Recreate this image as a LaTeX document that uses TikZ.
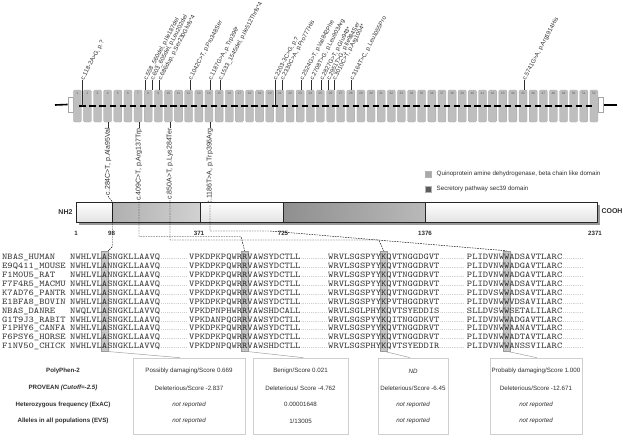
\documentclass[tikz,border=0pt]{standalone}
\usepackage{fontspec}
\usepackage{graphicx}
\setmainfont{Liberation Sans}
\usetikzlibrary{shadows,calc}
\definecolor{exongray}{HTML}{BEBEBE}
\definecolor{exonedge}{HTML}{A8A8A8}
\definecolor{hlfill}{HTML}{C6C6C6}
\definecolor{hledge}{HTML}{9A9A9A}
\definecolor{boxedge}{HTML}{CFCFCF}
\definecolor{quino}{HTML}{A9A9A9}
\definecolor{secd}{HTML}{5C5C5C}
\definecolor{txt}{HTML}{2E2E2E}
\definecolor{seqtxt}{HTML}{3A3A3A}
\newcommand{\seqfont}{\fontsize{8.8}{8.8}\selectfont\ttfamily}
\newcommand{\hlc}[1]{\makebox[4.62pt]{\fontseries{b}\selectfont #1}}
\newcommand{\dotrun}[1]{\hbox to #1pt{\leaders\hbox to 1.9pt{\hss.\hss}\hfill}}
\newcommand{\sqz}[1]{\scalebox{1.147}[1]{#1}}
\tikzset{
  exon/.style={rectangle, minimum width=8pt, minimum height=32pt, inner sep=0pt, fill=exongray, draw=exonedge, line width=0.3pt, rounded corners=1.2pt},
  exnum/.style={inner sep=0pt, font=\fontsize{3.2}{3.2}\selectfont, text=gray!70!black},
  utr/.style={rectangle, minimum width=5.5pt, minimum height=15pt, inner sep=0pt, fill=white, draw=gray!70, line width=0.4pt},
  intron/.style={line width=1.1pt, black},
  backbone/.style={line width=1.6pt, black},
  tick/.style={line width=0.45pt, txt},
  toplab/.style={inner sep=0.3pt, font=\fontsize{6}{6}\selectfont, text=txt, rotate=62, anchor=west},
  botlab/.style={inner sep=0.6pt, font=\fontsize{7}{7}\selectfont, text=txt, rotate=90, anchor=east},
  barframe/.style={rectangle, inner sep=0pt, minimum width=521pt, minimum height=20pt, fill=white, drop shadow={shadow xshift=2.5pt, shadow yshift=-2.8pt, fill=black!80}},
  barseg/.style={rectangle, inner sep=0pt, minimum height=20pt, draw=black!85, line width=0.5pt},
  whiteseg/.style={barseg, top color=white, bottom color=gray!22},
  quinoseg/.style={barseg, left color=gray!62, right color=gray!36},
  secseg/.style={barseg, left color=gray!88, right color=gray!55},
  endlab/.style={inner sep=0pt, font=\fontsize{7}{7}\selectfont\bfseries, text=txt},
  poslab/.style={inner sep=0pt, font=\fontsize{6.2}{6.2}\selectfont\bfseries, text=txt},
  legbox/.style={rectangle, minimum size=6pt, inner sep=0pt, draw=gray!60},
  legtxt/.style={inner sep=0pt, anchor=west, font=\fontsize{6.2}{6.2}\selectfont, text=txt},
  vdash/.style={dash pattern=on 1.6pt off 1pt, line width=0.45pt, black},
  hlcol/.style={rectangle, minimum width=7pt, minimum height=100pt, inner sep=0pt, fill=hlfill, draw=hledge, line width=0.4pt},
  seqn/.style={inner sep=0pt, anchor=base west, font=\seqfont, text=seqtxt, text height=5.4pt, text depth=0pt},
  dotn/.style={inner sep=0pt, anchor=base west, font=\fontsize{5}{5}\selectfont, text=seqtxt, text height=1pt, text depth=0pt},
  tbox/.style={rectangle, draw=boxedge, line width=0.6pt, minimum height=76pt, inner sep=0pt},
  ttext/.style={inner sep=0pt, font=\fontsize{6.2}{6.2}\selectfont, text=txt},
  rlab/.style={inner sep=0pt, font=\fontsize{6.2}{6.2}\selectfont\bfseries, text=txt},
  gline/.style={line width=0.5pt, gray!75}
}
\begin{document}
\begin{tikzpicture}[x=1pt,y=-1pt]
\useasboundingbox (0,0) rectangle (623,439);
% ---------------- gene structure ----------------
\node[utr] (utrL) at (70.5,104.5) {};
\node[utr] (utrR) at (600.8,105) {};
\coordinate (lineL) at (55,105);
\coordinate (lineR) at (617,105);
\draw[backbone] (lineL) -- (utrL.west);
\draw[backbone] (utrR.east) -- (lineR);
\foreach \i in {1,...,52}{
  \pgfmathsetmacro{\xc}{77.3+(\i-1)*10.13}
  \node[exon] (ex\i) at (\xc,106) {};
  \node[exnum] (exn\i) at (\xc,93.6) {\i};
}
\foreach \i [evaluate=\i as \j using int(\i+1)] in {1,...,51}{
  \draw[intron] ($(ex\i.east)+(-2.3,0)$) -- ($(ex\j.west)+(2.3,0)$);
}
% variants above
\foreach \n/\x/\a/\t in {
  tva/82.4/center/{c.118-2A>G, p.?},
  tvb/145.3/north/{c.558\_560del, p.Ile187del},
  tvc/151.9/north/{c.603\_605del, p.Leu202del},
  tvd/159.7/north/{c.686dup, p.Ser230Glufs*4},
  tve/190/north/{c.1042C>T, p.Pro348Ser},
  tvf/210/north/{c.1187G>A, p.Trp396*},
  tvg/220/north/{c.1533\_1545del, p.Ile512Thrfs*4},
  tvh/274.8/center/{c.2203-3C>G, p.?},
  tvi/281.9/north/{c.2330C>A, p.Pro777His},
  tvj/301.5/north/{c.2524G>T, p.Val842Phe},
  tvk/311.5/north/{c.2708T>G, p.Leu903Arg},
  tvl/321.5/north/{c.2827G>T, p.Glu943*},
  tvm/328.2/north/{c.2951T>G, p.Ile984Ser},
  tvn/334.2/north/{c.3010C>T, p.Arg1004*},
  tvo/351.7/north/{c.3164T>C, p.Leu1055Pro},
  tvp/524/north/{c.5741G>A, p.Arg1914His}}{
  \coordinate (\n) at (\x,80);
  \draw[tick] (\n) -- (\n |- ex1.\a);
  \node[toplab] (\n l) at (\n) {\t};
}
% variants below
\foreach \n/\x/\t in {
  bta/108/{c.284C>T, p.Ala95Val},
  btb/139/{c.409C>T, p.Arg137Trp},
  btc/170/{c.850A>T, p.Lys284Ter},
  btd/210/{c.1186T>A, p.Trp396Arg}}{
  \coordinate (\n) at (\x,127.5);
  \draw[tick] (\n) -- (\n |- ex1.south);
  \node[botlab] (\n l) at (\n) {\t};
}
% ---------------- legend ----------------
\node[legbox, fill=quino] (lg1) at (428,174) {};
\node[legtxt] (lg1t) at (436.5,174) {Quinoprotein amine dehydrogenase, beta chain like domain};
\node[legbox, fill=secd] (lg2) at (428,189) {};
\node[legtxt] (lg2t) at (436.5,189) {Secretory pathway sec39 domain};
% ---------------- protein bar ----------------
\node[barframe] (bar) at (336.5,212) {};
\node[whiteseg, minimum width=36pt] (seg1) at (94,212) {};
\node[quinoseg, minimum width=88pt] (seg2) at (156,212) {};
\node[whiteseg, minimum width=83pt] (seg3) at (241.5,212) {};
\node[secseg, minimum width=142pt] (seg4) at (354,212) {};
\node[whiteseg, minimum width=172pt] (seg5) at (511,212) {};
\node[endlab] (nh2) at (65.5,212) {NH2};
\node[endlab] (cooh) at (612,211.5) {COOH};
\node[poslab] (p1) at (76,233) {1};
\node[poslab] (p98) at (111.5,233) {98};
\node[poslab] (p371) at (199,233) {371};
\node[poslab] (p725) at (283,233) {725};
\node[poslab] (p1376) at (425,233) {1376};
\node[poslab] (p2371) at (595,233) {2371};
% ---------------- alignment ----------------
\node[hlcol] (hA) at (104.45,301) {};
\node[hlcol] (hR) at (244.65,301) {};
\node[hlcol] (hK) at (383.65,301) {};
\node[hlcol] (hW) at (506.5,301) {};
\foreach \nm/\sa/\sb/\sc/\sd [count=\k from 0] in {
  {NBAS\_HUMAN}/{NWHLVL\hlc{A}SNGKLLAAVQ}/{VPKDPKPQWR\hlc{R}VAWSYDCTLL}/{WRVLSGSPYY\hlc{K}QVTNGGDGVT}/{PLIDVNW\hlc{W}ADSAVTLARC},
  {E9Q411\_MOUSE}/{NWHLVL\hlc{A}NNGKLLAAVQ}/{VPKDPKPQWR\hlc{R}VAWSYDCTLL}/{WRVLSGSPYY\hlc{K}QVTNGGDRVT}/{PLIDVNW\hlc{W}ADGAVTLARC},
  {F1M0U5\_RAT}/{NWHLVL\hlc{A}NNGKLLAAVQ}/{VPKDPKPQWR\hlc{R}VAWSYDCTLL}/{WRVLSGSPYY\hlc{K}QVTNGGDRVT}/{PLIDVNW\hlc{W}ADGAVTLARC},
  {F7F4R5\_MACMU}/{NWHLVL\hlc{A}SNGKLLAAVQ}/{VPKDPKPQWR\hlc{R}VAWSYDCTLL}/{WRVLSGSPYY\hlc{K}QVTNGGDRVT}/{PLIDVNW\hlc{W}ADSAVTLARC},
  {K7AD76\_PANTR}/{NWHLVL\hlc{A}SNGKLLAAVQ}/{VPKDPKPQWR\hlc{R}VAWSYDCTLL}/{WRVLSGSPYY\hlc{K}QVTNGGDRVT}/{PLIDVSW\hlc{W}ADSAVTLARC},
  {E1BFA8\_BOVIN}/{NWHLVL\hlc{A}SNGKLLAAVQ}/{VPKDPKPQWR\hlc{R}VAWSYDCTLL}/{WRVLSGSPYY\hlc{K}PVTHGGDRVT}/{PLIDVNW\hlc{W}VDSAVILARC},
  {NBAS\_DANRE}/{NWQLVL\hlc{A}SNGKLLAVVQ}/{VPKDPNPHWR\hlc{R}VAWSHDCALL}/{WRVLSGLPHY\hlc{K}QVTSYEDDIS}/{SLLDVSW\hlc{W}SETALILARC},
  {G1T9J3\_RABIT}/{NWHLVL\hlc{A}SNGKLLAAVQ}/{VPKDANPQGR\hlc{R}VAWSYDCTLL}/{WRVLSGSPYY\hlc{K}QITNGGDKVT}/{PLIDVNW\hlc{W}ADGAVTLARC},
  {F1PHY6\_CANFA}/{NWHLVL\hlc{A}SNGKLLAAVQ}/{VPKDPKPQWR\hlc{R}VAWSYDCTLL}/{WRVLSGSPYY\hlc{K}QVTNGGDRVT}/{PLIDVNW\hlc{W}AANAVTLARC},
  {F6PSY6\_HORSE}/{NWHLVL\hlc{A}SNGKLLAAVQ}/{VPKDPKPQWR\hlc{R}VAWSYDCTLL}/{WRVLSGSPYY\hlc{K}QVTNGGDRVT}/{PLIDVNW\hlc{W}ADTAVTLARC},
  {F1NV50\_CHICK}/{NWHLVL\hlc{A}SNGKLLAVVQ}/{VPKDPNPQWR\hlc{R}VAWSHDCTLL}/{WRVLSGSPHY\hlc{K}QVTSYEDDIR}/{PLIDVNW\hlc{W}ANSSVILARC}}{
  \pgfmathsetmacro{\yb}{259.7+8.9*\k}
  \node[seqn] (nm\k) at (2,\yb) {\sqz{\nm}};
  \node[seqn] (sa\k) at (70,\yb) {\sqz{\sa}};
  \node[dotn] (da\k) at (160.6,\yb) {\dotrun{27.5}};
  \node[seqn] (sb\k) at (189,\yb) {\sqz{\sb}};
  \node[dotn] (db\k) at (300.8,\yb) {\dotrun{26.8}};
  \node[seqn] (sc\k) at (328,\yb) {\sqz{\sc}};
  \node[dotn] (dc\k) at (439.8,\yb) {\dotrun{26.5}};
  \node[seqn] (sd\k) at (466.75,\yb) {\sqz{\sd}};
  \node[dotn] (dd\k) at (562.6,\yb) {\dotrun{22.5}};
}
% dashed connectors from variants to alignment
\coordinate (c2) at (241,236.5);
\coordinate (c3) at (379,240);
\coordinate (c4) at (270,231);
\draw[vdash] (btal.west) -- (seg1.north east) -- ($(seg1.north east |- hA.north)+(0,-4)$) -- (hA.north east);
\draw[vdash] (btbl.west) |- (c2) -- (hR.north);
\draw[vdash] (btcl.west) |- (c3) -- (hK.north);
\draw[vdash] (btdl.west) |- (c4) -- (hW.north);
% ---------------- table ----------------
\node[tbox, minimum width=112pt] (b1) at (189,396) {};
\node[tbox, minimum width=95pt] (b2) at (300.5,396) {};
\node[tbox, minimum width=70pt] (b3) at (413,396) {};
\node[tbox, minimum width=92pt] (b4) at (536,396) {};
\draw[gline] (hA.south) -- ($(b1.north west)!0.42!(b1.north east)$);
\draw[gline] (hR.south) -- ($(b2.north west)!0.53!(b2.north east)$);
\draw[gline] (hK.south) -- ($(b3.north west)!0.46!(b3.north east)$);
\draw[gline] (hW.south) -- ($(b4.north west)!0.51!(b4.north east)$);
\node[rlab] (r1) at (63,371) {PolyPhen-2};
\node[rlab] (r2) at (63,388) {PROVEAN \textit{(Cutoff=-2.5)}};
\node[rlab] (r3) at (63,404.5) {Heterozygous frequency (ExAC)};
\node[rlab] (r4) at (63,421) {Alleles in all populations (EVS)};
\node[ttext] (t11) at (b1 |- r1) {Possibly damaging/Score 0.669};
\node[ttext] (t12) at (b1 |- r2) {Deleterious/Score -2.837};
\node[ttext] (t13) at (b1 |- r3) {\itshape not reported};
\node[ttext] (t14) at (b1 |- r4) {\itshape not reported};
\node[ttext] (t21) at (b2 |- r1) {Benign/Score 0.021};
\node[ttext] (t22) at (b2 |- r2) {Deleterious/ Score -4.762};
\node[ttext] (t23) at (b2 |- r3) {0.00001648};
\node[ttext] (t24) at (b2 |- r4) {1/13005};
\node[ttext] (t31) at (b3 |- r1) {\itshape ND};
\node[ttext] (t32) at (b3 |- r2) {Deleterious/Score -6.45};
\node[ttext] (t33) at (b3 |- r3) {\itshape not reported};
\node[ttext] (t34) at (b3 |- r4) {\itshape not reported};
\node[ttext] (t41) at (b4 |- r1) {Probably damaging/Score 1.000};
\node[ttext] (t42) at (b4 |- r2) {Deleterious/Score -12.671};
\node[ttext] (t43) at (b4 |- r3) {\itshape not reported};
\node[ttext] (t44) at (b4 |- r4) {\itshape not reported};
\end{tikzpicture}
\end{document}
